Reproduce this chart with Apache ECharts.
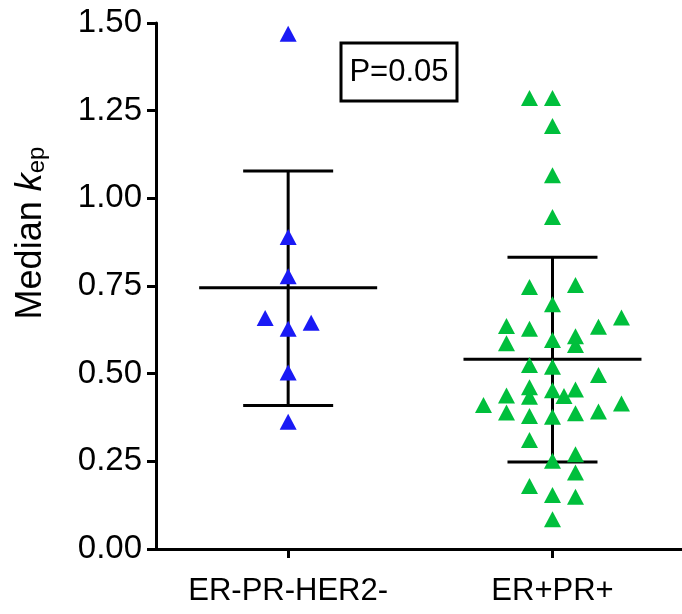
<!DOCTYPE html>
<html>
<head>
<meta charset="utf-8">
<script src="https://cdn.jsdelivr.net/npm/echarts@6/dist/echarts.min.js"></script>
<style>
  html, body { margin: 0; padding: 0; background: #fff; }
  #chart { width: 682px; height: 614px; }
</style>
</head>
<body>
<div id="chart"></div>
<script>
const categories = ['ER-PR-HER2-', 'ER+PR+']
// group 1 (blue) values and their jitter column
const tnbcValues = [1.469, 0.890, 0.778, 0.659, 0.628, 0.645, 0.503, 0.363]
const tnbcSlots = [0, 0, 0, -1, 0, 1, 0, 0]
// group 2 (green) values and their jitter column
const hrValues = [
  1.286, 1.286, 1.206, 1.066, 0.947,
  0.747, 0.753, 0.698, 0.636, 0.628, 0.634, 0.660,
  0.587, 0.596, 0.607, 0.582,
  0.525, 0.520, 0.496,
  0.461, 0.434, 0.438, 0.453, 0.455, 0.436,
  0.411, 0.415, 0.389, 0.379, 0.387, 0.392, 0.377,
  0.311, 0.270, 0.252, 0.218, 0.180, 0.154, 0.149, 0.085
]
const hrSlots = [
  -1, 0, 0, 0, 0,
  -1, 1, 0, -2, -1, 2, 3,
  -2, 0, 1, 1,
  -1, 0, 2,
  -1, -1, -2, 0, 1, 0.5,
  -3, 3, -2, -1, 1, 2, 0,
  -1, 1, 0, 1, -1, 0, 1, 0
]
const meanValues = [0.745, 0.541]
const sdLow = [0.409, 0.248]
const sdHigh = [1.078, 0.832]
const pText = 'P=0.05'

const slotWidth = 0.087
const font = 'Liberation Sans, Arial, sans-serif'

const toPoints = (values, slots, groupIndex) =>
  values.map((v, i) => [groupIndex + 1 + slots[i] * slotWidth, v])

const errorData = meanValues.map((m, i) => [i + 1, m, sdLow[i], sdHigh[i]])

const chart = echarts.init(document.getElementById('chart'))
chart.setOption({
  animation: false,
  grid: { left: 156, right: 0, top: 23, bottom: 65 },
  xAxis: {
    type: 'value',
    min: 0.5,
    max: 2.49,
    splitLine: { show: false },
    axisLine: { lineStyle: { color: '#000', width: 3 } },
    axisTick: { customValues: [1, 2], length: 9, lineStyle: { color: '#000', width: 3 } },
    axisLabel: {
      customValues: [1, 2],
      formatter: v => categories[Math.round(v) - 1],
      fontSize: 31,
      fontFamily: font,
      color: '#000',
      margin: 27
    }
  },
  yAxis: {
    type: 'value',
    min: 0,
    max: 1.5,
    interval: 0.25,
    splitLine: { show: false },
    axisLine: { show: true, lineStyle: { color: '#000', width: 3 } },
    axisTick: { show: true, length: 9, lineStyle: { color: '#000', width: 3 } },
    axisLabel: {
      formatter: v => v.toFixed(2),
      fontSize: 33,
      fontFamily: font,
      color: '#000',
      margin: 14
    }
  },
  graphic: [
    {
      type: 'text',
      x: 27,
      y: 233,
      rotation: Math.PI / 2,
      style: {
        text: '{n|Median }{k|k}{s|ep}',
        align: 'center',
        verticalAlign: 'middle',
        fill: '#000',
        rich: {
          n: { fontSize: 36, fontFamily: font, lineHeight: 44, verticalAlign: 'bottom' },
          k: { fontSize: 36, fontFamily: font, fontStyle: 'italic', lineHeight: 44, verticalAlign: 'bottom' },
          s: { fontSize: 24, fontFamily: font, lineHeight: 44, verticalAlign: 'bottom', padding: [16, 0, 0, 0] }
        }
      }
    },
    {
      type: 'rect',
      shape: { x: 341, y: 43, width: 116, height: 58 },
      style: { fill: '#fff', stroke: '#000', lineWidth: 3 }
    },
    {
      type: 'text',
      x: 399,
      y: 72,
      style: {
        text: pText,
        fontSize: 31,
        fontFamily: font,
        fill: '#000',
        align: 'center',
        verticalAlign: 'middle'
      }
    }
  ],
  series: [
    {
      type: 'custom',
      z: 1,
      data: errorData,
      renderItem: (params, api) => {
        const x = api.value(0)
        const c = api.coord([x, api.value(1)])
        const lo = api.coord([x, api.value(2)])
        const hi = api.coord([x, api.value(3)])
        const style = { stroke: '#000', lineWidth: 3 }
        return {
          type: 'group',
          children: [
            { type: 'line', shape: { x1: c[0] - 89, y1: c[1], x2: c[0] + 89, y2: c[1] }, style },
            { type: 'line', shape: { x1: lo[0], y1: lo[1], x2: hi[0], y2: hi[1] }, style },
            { type: 'line', shape: { x1: lo[0] - 45, y1: lo[1], x2: lo[0] + 45, y2: lo[1] }, style },
            { type: 'line', shape: { x1: hi[0] - 45, y1: hi[1], x2: hi[0] + 45, y2: hi[1] }, style }
          ]
        }
      }
    },
    {
      type: 'scatter',
      z: 2,
      symbol: 'triangle',
      symbolSize: [17, 16],
      itemStyle: { color: '#1A1AF5', opacity: 1 },
      data: toPoints(tnbcValues, tnbcSlots, 0)
    },
    {
      type: 'scatter',
      z: 2,
      symbol: 'triangle',
      symbolSize: [17, 16],
      itemStyle: { color: '#00BF3C', opacity: 1 },
      data: toPoints(hrValues, hrSlots, 1)
    }
  ]
})
</script>
</body>
</html>
